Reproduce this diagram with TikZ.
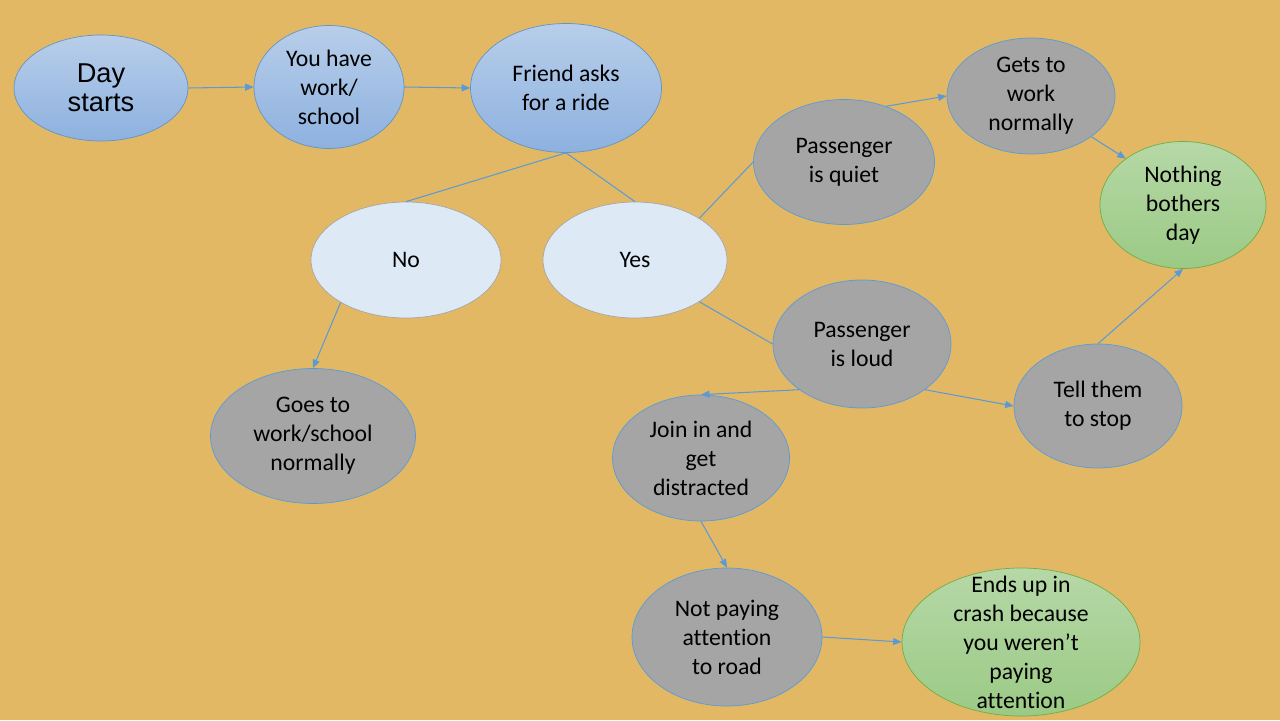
\documentclass[tikz,border=0pt]{standalone}
\usepackage{fontspec}
\setmainfont[Ligatures=NoCommon]{Carlito}
\newfontfamily\arialfont{Liberation Sans}
\usetikzlibrary{arrows.meta, shapes.geometric}
\definecolor{bgorange}{HTML}{E2B865}
\definecolor{bluetop}{HTML}{B8CEEA}
\definecolor{bluebot}{HTML}{8DB1DF}
\definecolor{blueline}{HTML}{5B9BD5}
\definecolor{paleblue}{HTML}{DEE9F6}
\definecolor{greytone}{HTML}{A5A5A5}
\definecolor{greentop}{HTML}{B6D8A7}
\definecolor{greenbot}{HTML}{9BCA85}
\definecolor{greenline}{HTML}{70AD47}
\newcommand\px{0.02cm}
\tikzset{
  ell/.style={ellipse, inner sep=0pt, align=center,
    font=\fontsize{13.5}{16.5}\selectfont},
  bluenode/.style={draw=blueline!80!gray, top color=bluetop, bottom color=bluebot},
  palenode/.style={draw=gray!70, fill=paleblue},
  greynode/.style={draw=blueline, fill=greytone},
  greennode/.style={draw=greenline, top color=greentop, bottom color=greenbot},
  conn/.style={draw=blueline, line width=0.6pt},
  arr/.style={conn, -{Triangle[length=0.17cm, width=0.14cm]}}
}

\begin{document}
\begin{tikzpicture}[x=0.02cm, y=-0.02cm]

  \fill[bgorange] (0,0) rectangle (1280,720);
  \useasboundingbox (0,0) rectangle (1280,720);

  % top row
  \node[ell, bluenode, minimum width=174*\px, minimum height=106*\px,
        font=\arialfont\fontsize{15.5}{16.5}\selectfont]
    (day) at (101,88) {Day\\starts};
  \node[ell, bluenode, minimum width=150*\px, minimum height=123*\px]
    (work) at (329,87) {You have\\work/\\school};
  \node[ell, bluenode, minimum width=191*\px, minimum height=129*\px]
    (friend) at (566,88) {Friend asks\\for a ride};

  % answers
  \node[ell, palenode, minimum width=190*\px, minimum height=116*\px] (no) at (406,260) {No};
  \node[ell, palenode, minimum width=184*\px, minimum height=116*\px] (yes) at (635,260) {Yes};

  % outcomes
  \node[ell, greynode, minimum width=205*\px, minimum height=135*\px]
    (goes) at (313,436) {Goes to\\work/school\\normally};
  \node[ell, greynode, minimum width=181*\px, minimum height=125*\px]
    (quiet) at (844,162) {Passenger\\is quiet};
  \node[ell, greynode, minimum width=168*\px, minimum height=116*\px]
    (gets) at (1031,96) {Gets to\\work\\normally};
  \node[ell, greennode, minimum width=166*\px, minimum height=127*\px]
    (nothing) at (1183,205) {Nothing\\bothers\\day};
  \node[ell, greynode, minimum width=178*\px, minimum height=128*\px]
    (loud) at (862,344) {Passenger\\is loud};
  \node[ell, greynode, minimum width=168*\px, minimum height=124*\px]
    (tell) at (1098,406) {Tell them\\to stop};
  \node[ell, greynode, minimum width=177*\px, minimum height=126*\px]
    (join) at (701,458) {Join in and\\get\\distracted};
  \node[ell, greynode, minimum width=190*\px, minimum height=138*\px]
    (notpay) at (727,637) {Not paying\\attention\\to road};
  \node[ell, greennode, minimum width=238*\px, minimum height=148*\px, inner ysep=-0.5cm]
    (crash) at (1021,642) {Ends up in\\crash because\\you weren’t\\paying\\attention};

  % connectors
  \draw[arr] (day.east) -- (work.west);
  \draw[arr] (work.east) -- (friend.west);
  \draw[conn] (friend.south) -- (no.north);
  \draw[conn] (friend.south) -- (yes.north);
  \draw[conn] (yes.33) -- (quiet.west);
  \draw[conn] (yes.-33) -- (loud.west);
  \draw[arr] (no.213) -- (goes.north);
  \draw[arr] (quiet.53) -- (gets.west);
  \draw[arr] (gets.-34) -- (nothing.141);
  \draw[arr] (tell.north) -- (nothing.south);
  \draw[arr] (loud.216) -- (join.north);
  \draw[arr] (loud.-36) -- (tell.west);
  \draw[arr] (join.south) -- (notpay.north);
  \draw[arr] (notpay.east) -- (crash.west);
\end{tikzpicture}
\end{document}
